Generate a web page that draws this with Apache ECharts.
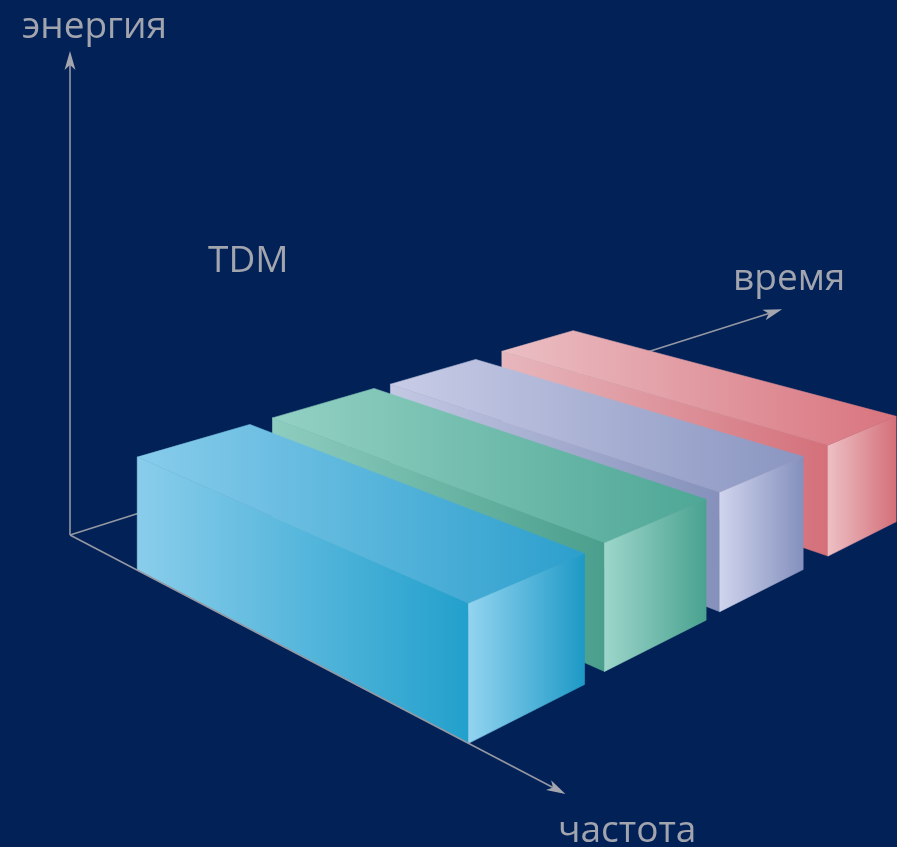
<!DOCTYPE html>
<html><head><meta charset="utf-8">
<script src="https://cdn.jsdelivr.net/npm/echarts@6/dist/echarts.min.js"></script>
<style>html,body{margin:0;padding:0;background:#012157;}#c{width:897px;height:847px;}</style>
</head><body><div id="c"></div>
<script>
// ---- data ----
const slotNames  = ['слот 1', 'слот 2', 'слот 3', 'слот 4'];
const timeStart  = [0.00, 1.30, 2.58, 3.97];
const timeEnd    = [1.07, 2.40, 3.62, 4.95];
const freqStart  = [1.78, 1.78, 1.80, 1.78];
const freqEnd    = [8.50, 8.45, 8.42, 8.40];
const energy     = [1.0, 1.0, 1.0, 1.0];
const axisNames  = ['время', 'частота', 'энергия'];
const axisMax    = [9.73, 10, 4.5];   // time, frequency, energy
const titleText  = 'TDM';

// ---- styles ----
const faceColors = [
  {front:['#8acdeb','#22a0cc'], top:['#88cceb','#2c9fcd'], end:['#93d4f0','#1d99c6']},
  {front:['#8ecdbf','#4a9f8c'], top:['#93d1c3','#4ea796'], end:['#9dd6cb','#49a28f']},
  {front:['#c3c8e3','#8591bb'], top:['#c8cce6','#8a96c1'], end:['#d0d4ed','#8490bd']},
  {front:['#e7b7bd','#d4707a'], top:['#eabfc4','#d9747e'], end:['#edc0c4','#d46f79']}
];
const P = {ox:70, oy:535, vtx:2230, vfx:-1240, hy:-150, a:0.05055, b:-0.02744, H:6.37};

function project(t, f, e) {
  const u = P.a * t, v = P.b * f, w = u + v + 1;
  const x = (u * P.vtx + v * P.vfx + P.ox) / w;
  const yg = ((u + v) * P.hy + P.oy) / w;
  return [x, yg - (yg - P.hy) * e / P.H];
}
function grad(c) {
  return {type:'linear', x:0, y:0, x2:1, y2:0, global:false,
    colorStops:[{offset:0, color:c[0]}, {offset:1, color:c[1]}]};
}

const boxData = [];
for (let i = slotNames.length - 1; i >= 0; i--) {
  boxData.push({name: slotNames[i], value:[timeStart[i], timeEnd[i], freqStart[i], freqEnd[i], energy[i], i]});
}

function renderBox(params, api) {
  const t1 = api.value(0), t2 = api.value(1), f1 = api.value(2), f2 = api.value(3), e = api.value(4), ci = api.value(5);
  const c = (p) => api.coord(p);
  const A = c(project(t1,f1,e)), B = c(project(t2,f1,e)), C = c(project(t2,f2,e)), D = c(project(t1,f2,e));
  const A0 = c(project(t1,f1,0)), C0 = c(project(t2,f2,0)), D0 = c(project(t1,f2,0));
  const col = faceColors[ci];
  const face = (pts, g) => ({type:'polygon', shape:{points:pts},
    style:{fill:grad(g), stroke:grad(g), lineWidth:0.6}});
  return {type:'group', children:[
    face([A, D, D0, A0], col.front),
    face([D, C, C0, D0], col.end),
    face([A, B, C, D], col.top)
  ]};
}

function arrowItem(p0, p1, api) {
  const s = api.coord(p0), e = api.coord(p1);
  const dx = e[0]-s[0], dy = e[1]-s[1], L = Math.hypot(dx,dy);
  const ux = dx/L, uy = dy/L, nx = -uy, ny = ux;
  const len = 19, hw = 5.5, notch = 5;
  const base = [e[0]-ux*len, e[1]-uy*len];
  const head = [e,
    [base[0]+nx*hw, base[1]+ny*hw],
    [e[0]-ux*(len-notch), e[1]-uy*(len-notch)],
    [base[0]-nx*hw, base[1]-ny*hw]];
  return {type:'group', children:[
    {type:'line', shape:{x1:s[0], y1:s[1], x2:e[0]-ux*(len-notch), y2:e[1]-uy*(len-notch)},
      style:{stroke:'#9598a3', lineWidth:1.6}},
    {type:'polygon', shape:{points:head}, style:{fill:'#a4a6af'}}
  ]};
}
function renderAxis(params, api) {
  const p0 = project(api.value(0), api.value(1), api.value(2));
  const p1 = project(api.value(3), api.value(4), api.value(5));
  return arrowItem(p0, p1, api);
}
const timeAxisData = [[0,0,0, axisMax[0],0,0]];
const frontAxisData = [[0,0,0, 0,axisMax[1],0], [0,0,0, 0,0,axisMax[2]]];

const chart = echarts.init(document.getElementById('c'), null, {renderer:'canvas'});
const txt = {fill:'#a3a5ae', fontSize:37, fontFamily:'"Open Sans", "Noto Sans", sans-serif', textBaseline:'alphabetic'};
chart.setOption({
  backgroundColor:'#012157',
  animation:false,
  grid:{left:0, right:0, top:0, bottom:0},
  xAxis:{type:'value', min:0, max:897, show:false},
  yAxis:{type:'value', min:0, max:847, inverse:true, show:false},
  series:[
    {type:'custom', z:1, renderItem:renderAxis, data:timeAxisData, silent:true},
    {type:'custom', z:2, renderItem:renderBox, data:boxData, silent:true},
    {type:'custom', z:3, renderItem:renderAxis, data:frontAxisData, silent:true}
  ],
  graphic:[
    {type:'text', left:22, top:9, style:Object.assign({text:axisNames[2]}, txt), z:10},
    {type:'text', left:208, top:243, style:Object.assign({text:titleText}, txt), z:10},
    {type:'text', left:733, top:261, style:Object.assign({text:axisNames[0]}, txt), z:10},
    {type:'text', left:558, top:813, style:Object.assign({text:axisNames[1]}, txt), z:10}
  ]
});
</script></body></html>
